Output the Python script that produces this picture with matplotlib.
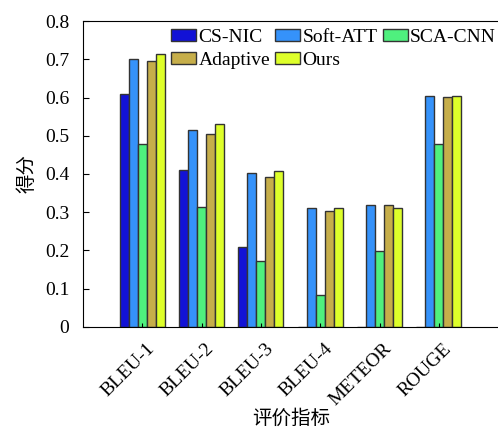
import numpy as np
import matplotlib.pyplot as plt
import matplotlib.transforms as mtransforms
from matplotlib import rcParams

rcParams['font.family'] = ['Liberation Serif', 'Noto Sans CJK SC']
rcParams['font.size'] = 14

# data
metrics = ['BLEU-1', 'BLEU-2', 'BLEU-3', 'BLEU-4', 'METEOR', 'ROUGE']
cs_nic = [0.610, 0.410, 0.209, 0.0, 0.0, 0.0]
soft_att = [0.700, 0.514, 0.403, 0.311, 0.320, 0.604]
sca_cnn = [0.478, 0.314, 0.173, 0.084, 0.198, 0.478]
adaptive = [0.696, 0.505, 0.391, 0.302, 0.319, 0.601]
ours = [0.714, 0.531, 0.408, 0.312, 0.312, 0.604]

series = [('CS-NIC', cs_nic, '#1212d6'),
          ('Soft-ATT', soft_att, '#3592fa'),
          ('SCA-CNN', sca_cnn, '#4ff07e'),
          ('Adaptive', adaptive, '#c6ae4a'),
          ('Ours', ours, '#deff2a')]

fig = plt.figure(figsize=(4.98, 4.30), dpi=100)
ax = fig.add_axes([0.167, 0.24, 0.845, 0.711])

x = np.arange(len(metrics))
w = 0.152
bars = []
for i, (name, vals, col) in enumerate(series):
    b = ax.bar(x + (i - 2) * w, vals, w, color=col, edgecolor='#333333',
               linewidth=1.0, label=name)
    bars.append(b)

ax.set_xlim(-1.0, 6.1)
ax.set_ylim(0, 0.8)
ax.set_yticks(np.arange(0, 0.81, 0.1))
ax.set_yticklabels(['0', '0.1', '0.2', '0.3', '0.4', '0.5', '0.6', '0.7', '0.8'])
ax.set_xticks(x)
ax.set_xticklabels(metrics, rotation=45, ha='right', va='center', rotation_mode='anchor')
ax.tick_params(axis='both', direction='in', length=4, width=0.8)
ax.tick_params(axis='y', pad=10)
ax.tick_params(axis='x', length=3, pad=14)
ax.spines['right'].set_visible(False)
shift = mtransforms.ScaledTranslation(7 / 72, 0, fig.dpi_scale_trans)
for lab in ax.get_xticklabels():
    lab.set_transform(lab.get_transform() + shift)

ax.set_ylabel('得分', labelpad=6)
ax.set_xlabel('评价指标')
ax.xaxis.set_label_coords(291 / 498, 1 - 409 / 430, transform=fig.transFigure)

# row-wise legend order
order = [0, 3, 1, 4, 2]
ax.legend([bars[k] for k in order], [series[k][0] for k in order],
          loc='upper left', bbox_to_anchor=(171 / 498, 1 - 29 / 430), bbox_transform=fig.transFigure,
          ncol=3, frameon=False, handlelength=1.3, handleheight=0.6,
          handletextpad=0.12, columnspacing=0.25, labelspacing=0.3,
          borderpad=0, borderaxespad=0, fontsize=14)

fig.savefig('out.png', dpi=100)
